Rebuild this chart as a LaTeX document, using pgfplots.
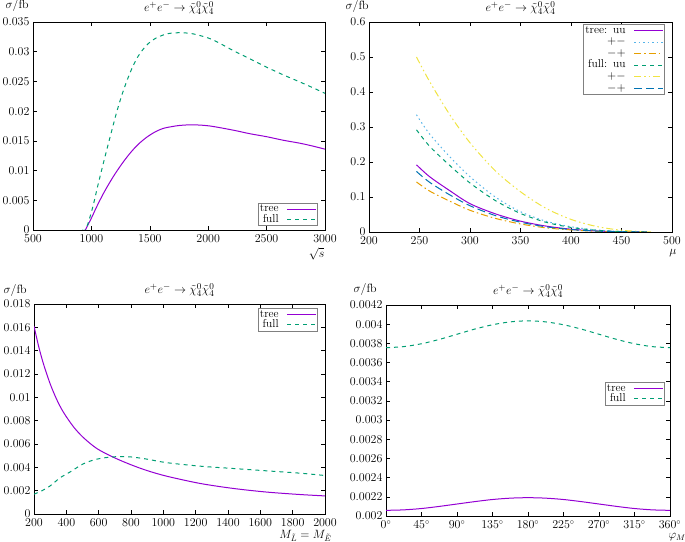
\documentclass[border=0pt]{standalone}
\usepackage{pgfplots}
\pgfplotsset{compat=1.18}
\definecolor{cpurple}{HTML}{9400D3}
\definecolor{cgreen}{HTML}{009E73}
\definecolor{clblue}{HTML}{56B4E9}
\definecolor{corange}{HTML}{E69F00}
\definecolor{cyellow}{HTML}{F0E442}
\definecolor{cblue}{HTML}{0072B2}
\pgfplotsset{
  myax/.style={
    scale only axis,
    tick align=inside,
    major tick length=4pt,
    axis line style={line width=0.8pt},
    every tick/.style={black, line width=0.6pt},
    scaled ticks=false,
    /pgf/number format/1000 sep={},
    xticklabel style={yshift=-1pt},
    title style={at={(0.5,1)}, anchor=base, yshift=4.5pt, font=\fontsize{12.5}{14}\selectfont},
    title={$e^+e^-\to\tilde\chi_4^0\tilde\chi_4^0$},
    legend cell align=right,
    legend plot pos=right,
    legend style={draw=gray, line width=0.6pt, inner sep=1pt, row sep=0pt,
      nodes={inner sep=1pt, text height=6.8pt, text depth=1.6pt}},
    legend image code/.code={\path (0pt,0pt); \draw[##1] (7pt,0pt) -- (36pt,0pt);},
  },
  tree/.style={cpurple, line width=1pt, solid},
  full/.style={cgreen, line width=1pt, dash pattern=on 4pt off 4pt},
}
\begin{document}
\begin{tikzpicture}[font=\fontsize{11.5}{13}\selectfont]
\useasboundingbox (0,0) rectangle (685pt,541pt);

% ---------- top left ----------
\begin{axis}[myax, at={(33pt,311pt)}, anchor=south west, width=292pt, height=208pt,
  xmin=500, xmax=3000, ymin=0, ymax=0.035,
  xtick={500,1000,1500,2000,2500,3000},
  ytick={0,0.005,0.01,0.015,0.02,0.025,0.03,0.035},
  yticklabel style={/pgf/number format/.cd, fixed, precision=3},
  legend style={at={(1,0)}, anchor=south east, xshift=-7pt, yshift=4pt},
  extra description/.code={
    \node[anchor=base west] at (0,1) [xshift=-31pt, yshift=13pt] {$\sigma/\mathrm{fb}$};
    \node[anchor=north east] at (1,0) [yshift=-14pt, xshift=3pt] {$\sqrt{s}$};
  }]
\addplot[tree, smooth, tension=0.5] coordinates {
 (948,0) (1000,0.0020) (1045,0.0039) (1110,0.0064) (1188,0.0090) (1260,0.0111)
 (1330,0.0129) (1400,0.0144) (1473,0.0156) (1545,0.0165) (1616,0.0171) (1690,0.0174)
 (1759,0.0176) (1872,0.0177) (2015,0.0175) (2214,0.0168) (2357,0.0162) (2500,0.0157)
 (2643,0.0151) (2786,0.0146) (2900,0.0141) (3000,0.0136)};
\addlegendentry{tree}
\addplot[full, smooth, tension=0.5] coordinates {
 (920,0) (950,0) (985,0.0020) (1016,0.0042) (1059,0.0078) (1116,0.0123) (1174,0.0167)
 (1216,0.0198) (1259,0.0226) (1302,0.0250) (1345,0.0271) (1402,0.0293) (1473,0.0311)
 (1545,0.0322) (1645,0.0330) (1759,0.0332) (1872,0.0330) (2001,0.0323) (2071,0.0317)
 (2214,0.0302) (2357,0.0288) (2500,0.0274) (2643,0.0261) (2786,0.0249) (2900,0.0239)
 (3000,0.0230)};
\addlegendentry{full}
\end{axis}

% ---------- top right ----------
\begin{axis}[myax, at={(369pt,309pt)}, anchor=south west, width=303pt, height=210pt,
  xmin=200, xmax=500, ymin=0, ymax=0.6,
  xtick={200,250,300,350,400,450,500},
  ytick={0,0.1,0.2,0.3,0.4,0.5,0.6},
  yticklabel style={/pgf/number format/.cd, fixed, precision=1},
  legend style={at={(1,1)}, anchor=north east, xshift=-7pt, yshift=-2pt, row sep=1.2pt},
  extra description/.code={
    \node[anchor=base west] at (0,1) [xshift=-27pt, yshift=13pt] {$\sigma/\mathrm{fb}$};
    \node[anchor=north east] at (1,0) [yshift=-14pt, xshift=8pt] {$\mu$};
  }]
\addplot[tree, smooth, tension=0.5] coordinates {
 (247,0.192) (260,0.158) (280,0.118) (300,0.081) (325,0.052) (350,0.031) (375,0.017)
 (400,0.008) (425,0.003) (450,0.0008) (475,0)};
\addlegendentry{tree:\hspace{6pt}uu}
\addplot[clblue, line width=1pt, dash pattern=on 1.5pt off 3pt, smooth, tension=0.5] coordinates {
 (247,0.335) (260,0.280) (280,0.215) (300,0.158) (325,0.100) (350,0.058) (375,0.031)
 (400,0.015) (425,0.006) (450,0.0015) (475,0)};
\addlegendentry{${+}{-}$}
\addplot[corange, line width=1pt, dash pattern=on 7pt off 3pt on 1.5pt off 3pt, smooth, tension=0.5] coordinates {
 (247,0.143) (260,0.117) (280,0.088) (300,0.062) (325,0.039) (350,0.023) (375,0.012)
 (400,0.006) (425,0.002) (450,0.0005) (475,0)};
\addlegendentry{${-}{+}$}
\addplot[full, smooth, tension=0.5] coordinates {
 (247,0.292) (260,0.245) (280,0.190) (300,0.140) (325,0.090) (350,0.053) (375,0.028)
 (400,0.013) (425,0.005) (450,0.0012) (475,0)};
\addlegendentry{full:\hspace{6pt}uu}
\addplot[cyellow, line width=1pt, dash pattern=on 7pt off 3pt on 1.5pt off 3pt on 1.5pt off 3pt, smooth, tension=0.5] coordinates {
 (247,0.500) (260,0.430) (280,0.335) (300,0.255) (325,0.175) (350,0.115) (375,0.068)
 (400,0.036) (425,0.016) (450,0.005) (475,0.0005) (480,0)};
\addlegendentry{${+}{-}$}
\addplot[cblue, line width=1pt, dash pattern=on 8pt off 4pt, smooth, tension=0.5] coordinates {
 (247,0.173) (260,0.142) (280,0.106) (300,0.075) (325,0.047) (350,0.028) (375,0.015)
 (400,0.007) (425,0.0027) (450,0.0007) (475,0)};
\addlegendentry{${-}{+}$}
\end{axis}

% ---------- bottom left ----------
\begin{axis}[myax, at={(34pt,27pt)}, anchor=south west, width=291pt, height=210pt,
  xmin=200, xmax=2000, ymin=0, ymax=0.018,
  xtick={200,400,600,800,1000,1200,1400,1600,1800,2000},
  ytick={0,0.002,0.004,0.006,0.008,0.01,0.012,0.014,0.016,0.018},
  yticklabel style={/pgf/number format/.cd, fixed, precision=3},
  legend style={at={(1,1)}, anchor=north east, xshift=-7pt, yshift=-4pt},
  extra description/.code={
    \node[anchor=base west] at (0,1) [xshift=-34pt, yshift=11pt] {$\sigma/\mathrm{fb}$};
    \node[anchor=north east] at (1,0) [yshift=-13pt, xshift=10pt] {$M_{\tilde L}=M_{\tilde E}$};
  }]
\addplot[tree, smooth, tension=0.5] coordinates {
 (200,0.0161) (230,0.0143) (260,0.0128) (301,0.01112) (342,0.00977) (383,0.0087)
 (445,0.00746) (507,0.00653) (590,0.0056) (693,0.00485) (800,0.00422)
 (900,0.00372) (1021,0.00324) (1227,0.00262) (1433,0.00219) (1639,0.00188) (1845,0.00167)
 (2000,0.00155)};
\addlegendentry{tree}
\addplot[full, smooth, tension=0.5] coordinates {
 (200,0.0017) (250,0.0020) (299,0.0024) (361,0.0031) (423,0.0036) (505,0.0043)
 (588,0.0047) (690,0.0049) (794,0.0049) (900,0.0047) (1021,0.0044) (1227,0.0041)
 (1433,0.0039) (1639,0.0037) (1845,0.0035) (2000,0.0033)};
\addlegendentry{full}
\end{axis}

% ---------- bottom right ----------
\begin{axis}[myax, at={(386pt,25pt)}, anchor=south west, width=284pt, height=211pt,
  xmin=0, xmax=360, ymin=0.002, ymax=0.0042,
  xtick={0,45,90,135,180,225,270,315,360},
  xticklabels={$0^\circ$,$45^\circ$,$90^\circ$,$135^\circ$,$180^\circ$,$225^\circ$,$270^\circ$,$315^\circ$,$360^\circ$},
  ytick={0.002,0.0022,0.0024,0.0026,0.0028,0.003,0.0032,0.0034,0.0036,0.0038,0.004,0.0042},
  yticklabel style={/pgf/number format/.cd, fixed, precision=4},
  legend style={at={(1,1)}, anchor=north east, xshift=-5pt, yshift=-77pt},
  extra description/.code={
    \node[anchor=base west] at (0,1) [xshift=-36pt, yshift=12pt] {$\sigma/\mathrm{fb}$};
    \node[anchor=north west] at (1,0) [yshift=-14pt, xshift=-5pt] {$\varphi_{M_1}$};
  }]
\addplot[tree, smooth] coordinates {
 (0,0.002059) (22.5,0.002064) (45,0.002078) (67.5,0.002100) (90,0.002125)
 (112.5,0.002150) (135,0.002172) (157.5,0.002186) (180,0.002191) (202.5,0.002186)
 (225,0.002172) (247.5,0.002150) (270,0.002125) (292.5,0.002100) (315,0.002078)
 (337.5,0.002064) (360,0.002059)};
\addlegendentry{tree}
\addplot[full, smooth] coordinates {
 (0,0.003755) (22.5,0.003766) (45,0.003796) (67.5,0.003841) (90,0.003895)
 (112.5,0.003949) (135,0.003994) (157.5,0.004024) (180,0.004035) (202.5,0.004024)
 (225,0.003994) (247.5,0.003949) (270,0.003895) (292.5,0.003841) (315,0.003796)
 (337.5,0.003766) (360,0.003755)};
\addlegendentry{full}
\end{axis}
\end{tikzpicture}
\end{document}
